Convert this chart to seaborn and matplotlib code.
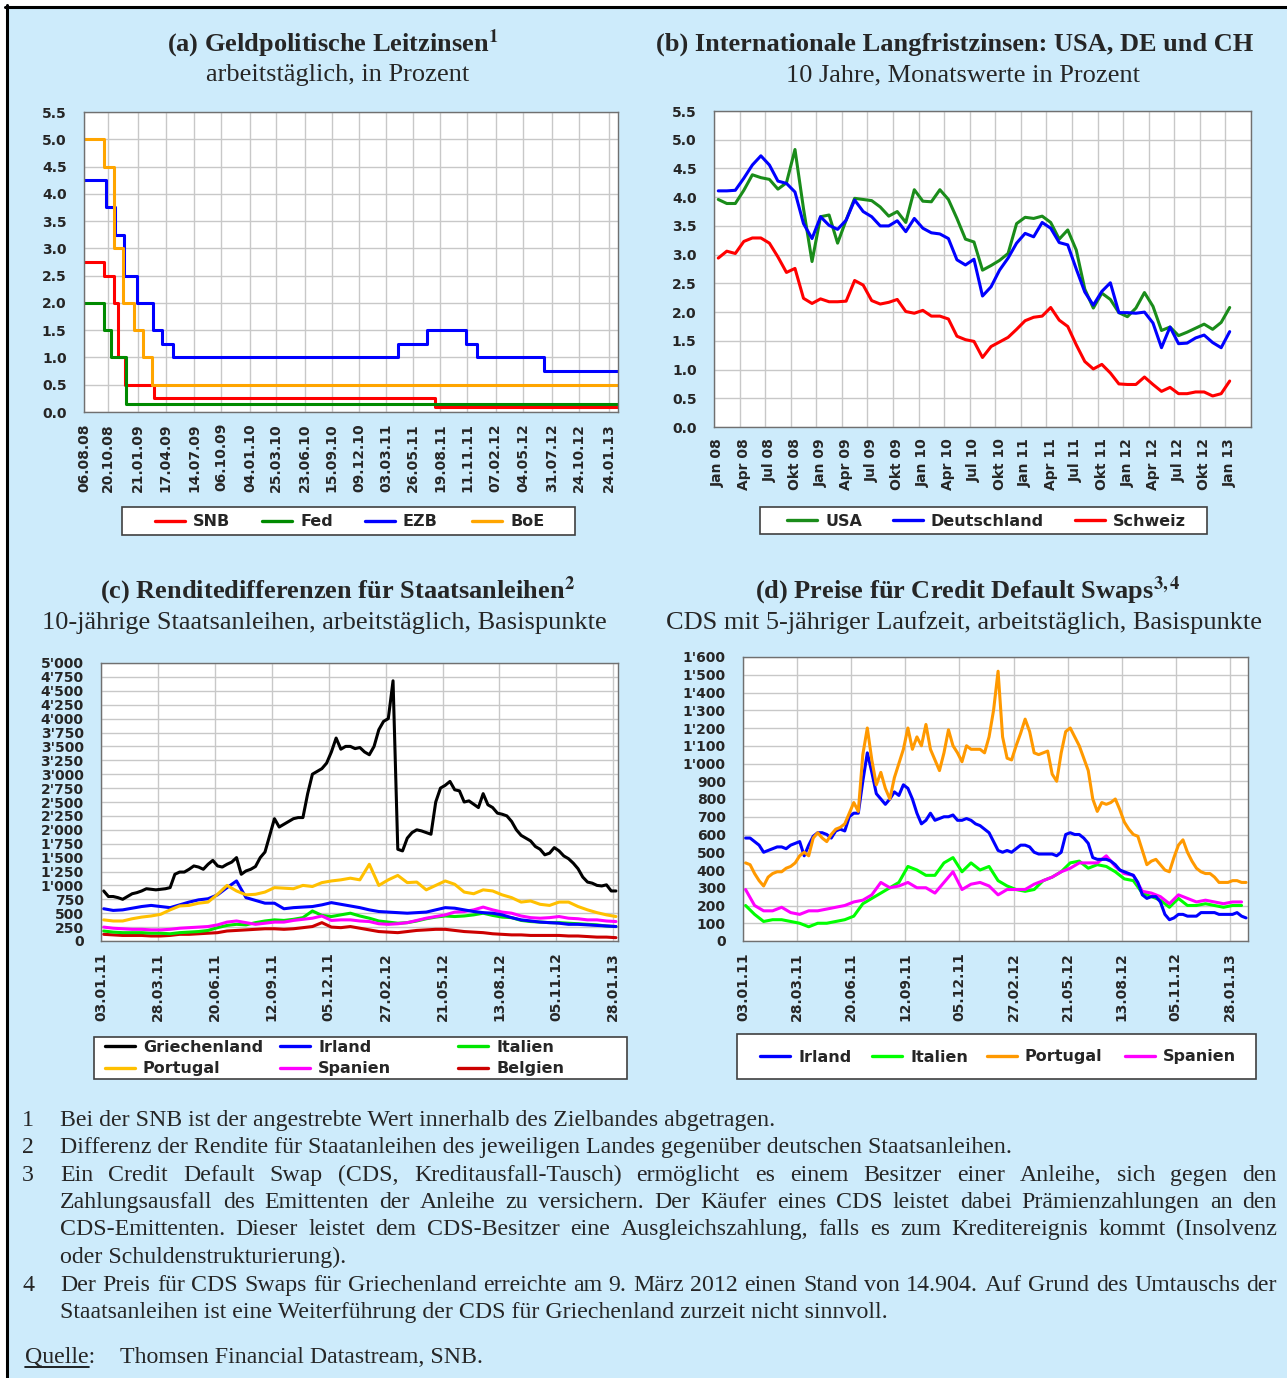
import numpy as np
import pandas as pd
import seaborn as sns
import matplotlib
matplotlib.use("Agg")
from matplotlib import pyplot as plt
from matplotlib.ticker import FuncFormatter, MultipleLocator, FixedLocator
from matplotlib.lines import Line2D
from matplotlib.patches import Rectangle

W, H = 1287, 1378

# ---------------- (a) Leitzinsen: step changes ----------------
a_end = "2013-02-22"
snb_dates = ["2008-08-06", "2008-10-08", "2008-11-06", "2008-11-20", "2008-12-11", "2009-03-12", "2011-08-03"]
snb_rates = [2.75, 2.5, 2.0, 1.0, 0.5, 0.25, 0.1]
fed_dates = ["2008-08-06", "2008-10-08", "2008-10-29", "2008-12-16"]
fed_rates = [2.0, 1.5, 1.0, 0.15]
ezb_dates = ["2008-08-06", "2008-10-12", "2008-11-09", "2008-12-07", "2009-01-18", "2009-03-08",
             "2009-04-05", "2009-05-10", "2011-04-10", "2011-07-10", "2011-11-06", "2011-12-11", "2012-07-08"]
ezb_rates = [4.25, 3.75, 3.25, 2.5, 2.0, 1.5, 1.25, 1.0, 1.25, 1.5, 1.25, 1.0, 0.75]
boe_dates = ["2008-08-06", "2008-10-08", "2008-11-06", "2008-12-04", "2009-01-08", "2009-02-05", "2009-03-05"]
boe_rates = [5.0, 4.5, 3.0, 2.0, 1.5, 1.0, 0.5]
a_ticks = ["06.08.08", "20.10.08", "21.01.09", "17.04.09", "14.07.09", "06.10.09", "04.01.10",
           "25.03.10", "23.06.10", "15.09.10", "09.12.10", "03.03.11", "26.05.11", "19.08.11",
           "11.11.11", "07.02.12", "04.05.12", "31.07.12", "24.10.12", "24.01.13"]

# ---------------- (b) Langfristzinsen, monthly Jan 08 - Jan 13 ----------------
usa = [3.96, 3.89, 3.89, 4.12, 4.39, 4.34, 4.31, 4.14, 4.25, 4.83,
       3.80, 2.88, 3.66, 3.69, 3.20, 3.60, 3.98, 3.96, 3.94, 3.83,
       3.67, 3.75, 3.56, 4.13, 3.93, 3.92, 4.13, 3.96, 3.63, 3.27,
       3.22, 2.73, 2.81, 2.90, 3.02, 3.54, 3.65, 3.63, 3.67, 3.56,
       3.27, 3.43, 3.08, 2.40, 2.07, 2.33, 2.22, 1.99, 1.92, 2.07,
       2.34, 2.10, 1.68, 1.74, 1.59, 1.65, 1.72, 1.79, 1.70, 1.82, 2.08]
deutschland = [4.11, 4.11, 4.12, 4.33, 4.56, 4.72, 4.56, 4.28, 4.24, 4.09,
               3.54, 3.28, 3.66, 3.51, 3.44, 3.60, 3.95, 3.75, 3.66, 3.50,
               3.50, 3.59, 3.40, 3.63, 3.46, 3.38, 3.36, 3.28, 2.91, 2.82,
               2.92, 2.28, 2.44, 2.73, 2.94, 3.20, 3.37, 3.31, 3.56, 3.46,
               3.21, 3.17, 2.75, 2.35, 2.12, 2.36, 2.51, 1.99, 1.99, 1.98,
               2.00, 1.81, 1.38, 1.74, 1.45, 1.46, 1.55, 1.60, 1.47, 1.38, 1.66]
schweiz = [2.94, 3.06, 3.02, 3.23, 3.29, 3.29, 3.20, 2.96, 2.69, 2.76,
           2.24, 2.15, 2.23, 2.18, 2.18, 2.19, 2.55, 2.47, 2.20, 2.14,
           2.17, 2.22, 2.01, 1.98, 2.03, 1.93, 1.93, 1.88, 1.58, 1.52,
           1.49, 1.21, 1.40, 1.48, 1.56, 1.70, 1.85, 1.91, 1.93, 2.08,
           1.86, 1.75, 1.43, 1.14, 1.01, 1.09, 0.94, 0.75, 0.74, 0.74,
           0.87, 0.74, 0.62, 0.69, 0.58, 0.58, 0.61, 0.61, 0.54, 0.58, 0.80]
b_months = ["Jan", "Apr", "Jul", "Okt"]
b_ticks = [f"{m} {y:02d}" for y in range(8, 13) for m in b_months] + ["Jan 13"]

# ---------------- (c) Renditedifferenzen (weekly / two-weekly readings) ----------------
c_start, c_end = "2011-01-03", "2013-02-04"
griechenland = [900, 800, 800, 780, 750, 800, 850, 870, 900, 940,
                930, 920, 930, 940, 960, 1200, 1240, 1240, 1290, 1350,
                1330, 1290, 1380, 1450, 1350, 1330, 1380, 1420, 1500, 1200,
                1260, 1290, 1340, 1500, 1600, 1900, 2200, 2050, 2100, 2150,
                2200, 2220, 2220, 2650, 3000, 3050, 3100, 3200, 3400, 3650,
                3450, 3500, 3500, 3460, 3480, 3400, 3350, 3500, 3800, 3950,
                4000, 4680, 1650, 1620, 1850, 1950, 2000, 1980, 1950, 1920,
                2500, 2750, 2800, 2870, 2720, 2700, 2500, 2520, 2460, 2400,
                2650, 2450, 2400, 2300, 2280, 2250, 2150, 2000, 1900, 1850,
                1800, 1700, 1650, 1550, 1580, 1680, 1620, 1530, 1480, 1400,
                1300, 1150, 1060, 1040, 1000, 990, 1010, 900, 900]
portugal_c = [380, 360, 360, 400, 430, 450, 480, 560, 630, 640,
              680, 700, 840, 1000, 900, 830, 840, 880, 960, 950,
              940, 1000, 980, 1050, 1080, 1100, 1130, 1100, 1380, 1000,
              1100, 1180, 1050, 1060, 920, 1000, 1080, 1020, 880, 850,
              920, 900, 830, 780, 700, 720, 660, 640, 700, 700,
              620, 560, 510, 470, 440]
irland_c = [580, 550, 560, 590, 620, 640, 620, 600, 650, 700,
            740, 760, 830, 960, 1080, 780, 730, 680, 680, 580,
            600, 610, 620, 650, 690, 660, 630, 600, 560, 530,
            520, 510, 500, 510, 520, 560, 600, 590, 560, 530,
            510, 500, 470, 420, 380, 360, 340, 330, 320, 300,
            300, 290, 280, 270, 260]
italien_c = [180, 160, 150, 150, 150, 140, 140, 130, 150, 160,
             170, 190, 240, 280, 300, 290, 330, 360, 380, 370,
             390, 420, 540, 460, 440, 470, 500, 450, 410, 360,
             340, 320, 330, 360, 400, 430, 450, 440, 450, 470,
             500, 460, 430, 420, 370, 350, 340, 330, 330, 320,
             310, 300, 290, 270, 260]
spanien_c = [250, 230, 220, 210, 210, 200, 200, 210, 230, 240,
             250, 260, 290, 340, 360, 330, 300, 320, 340, 340,
             370, 390, 410, 450, 370, 380, 380, 360, 350, 310,
             300, 310, 330, 370, 410, 440, 470, 520, 530, 560,
             610, 560, 520, 500, 450, 420, 410, 420, 440, 410,
             400, 380, 380, 360, 350]
belgien_c = [120, 110, 100, 100, 100, 90, 90, 100, 120, 120,
             130, 140, 150, 180, 190, 200, 210, 220, 220, 210,
             220, 240, 260, 330, 250, 240, 260, 230, 200, 170,
             160, 150, 170, 190, 200, 210, 210, 190, 170, 160,
             150, 130, 120, 110, 110, 100, 100, 100, 100, 90,
             90, 80, 70, 70, 60]
cd_ticks = ["03.01.11", "28.03.11", "20.06.11", "12.09.11", "05.12.11",
            "27.02.12", "21.05.12", "13.08.12", "05.11.12", "28.01.13"]

# ---------------- (d) CDS prices ----------------
d_end = "2013-02-25"
portugal_d = [440, 430, 380, 340, 310, 360, 380, 390, 390, 410,
              420, 440, 480, 500, 480, 580, 610, 580, 560, 600,
              630, 640, 660, 720, 780, 730, 1050, 1200, 1020, 880,
              950, 860, 800, 920, 1000, 1080, 1200, 1080, 1150, 1100,
              1220, 1080, 1020, 960, 1060, 1190, 1100, 1060, 1010, 1100,
              1080, 1080, 1080, 1060, 1150, 1300, 1520, 1150, 1030, 1020,
              1100, 1170, 1250, 1180, 1060, 1050, 1060, 1070, 940, 900,
              1060, 1180, 1200, 1150, 1100, 1030, 960, 800, 730, 780,
              770, 780, 800, 740, 670, 630, 600, 590, 510, 430,
              450, 460, 430, 400, 390, 470, 540, 570, 500, 450,
              410, 390, 380, 380, 360, 330, 330, 330, 340, 340,
              330, 330]
irland_d = [580, 580, 560, 540, 500, 510, 520, 530, 530, 520,
            540, 550, 560, 480, 540, 590, 610, 610, 600, 580,
            620, 630, 620, 700, 720, 720, 900, 1060, 950, 830,
            800, 770, 800, 840, 820, 880, 860, 800, 720, 660,
            680, 720, 680, 690, 700, 700, 710, 680, 680, 690,
            680, 660, 650, 630, 610, 560, 510, 500, 510, 500,
            520, 540, 540, 530, 500, 490, 490, 490, 490, 480,
            500, 600, 610, 600, 600, 580, 550, 470, 460, 460,
            460, 450, 430, 400, 390, 380, 370, 330, 260, 240,
            250, 250, 220, 150, 120, 130, 150, 150, 140, 140,
            140, 160, 160, 160, 160, 150, 150, 150, 150, 160,
            140, 130]
italien_d = [200, 150, 110, 120, 120, 110, 100, 80, 100, 100,
             110, 120, 140, 210, 240, 270, 300, 330, 420, 400,
             370, 370, 440, 470, 390, 440, 400, 420, 340, 310,
             290, 280, 290, 340, 360, 390, 440, 450, 410, 430,
             420, 390, 350, 340, 270, 250, 230, 190, 240, 200,
             200, 210, 200, 190, 200, 200]
spanien_d = [290, 200, 170, 170, 190, 160, 150, 170, 170, 180,
             190, 200, 220, 230, 260, 330, 300, 310, 330, 300,
             300, 270, 330, 390, 290, 320, 330, 310, 260, 290,
             290, 290, 320, 340, 360, 390, 410, 440, 440, 440,
             480, 420, 380, 370, 280, 270, 250, 210, 260, 240,
             220, 230, 220, 210, 220, 220]


def steps(name, dates, rates):
    d = list(pd.to_datetime(dates)) + [pd.Timestamp(a_end)]
    return pd.DataFrame({"Datum": d, "Wert": rates + [rates[-1]], "Serie": name})


def series(name, vals, freq):
    d = pd.date_range("2011-01-07", periods=len(vals), freq=freq)
    return pd.DataFrame({"Datum": d, "Wert": vals, "Serie": name})


df_a = pd.concat([steps("SNB", snb_dates, snb_rates), steps("Fed", fed_dates, fed_rates),
                  steps("EZB", ezb_dates, ezb_rates), steps("BoE", boe_dates, boe_rates)])
df_b = pd.concat([pd.DataFrame({"Monat": np.arange(len(v)), "Wert": v, "Serie": n})
                  for n, v in [("Schweiz", schweiz), ("USA", usa), ("Deutschland", deutschland)]])
df_c = pd.concat([series("Belgien", belgien_c, "2W-FRI"), series("Italien", italien_c, "2W-FRI"),
                  series("Spanien", spanien_c, "2W-FRI"), series("Irland", irland_c, "2W-FRI"),
                  series("Portugal", portugal_c, "2W-FRI"), series("Griechenland", griechenland, "W-FRI")])
df_d = pd.concat([series("Italien", italien_d, "2W-FRI"), series("Spanien", spanien_d, "2W-FRI"),
                  series("Irland", irland_d, "W-FRI"), series("Portugal", portugal_d, "W-FRI")])

pal_a = {"SNB": "#ff0000", "Fed": "#008a00", "EZB": "#0000ff", "BoE": "#ffa500"}
pal_b = {"USA": "#1a8c1a", "Deutschland": "#0000ff", "Schweiz": "#ff0000"}
pal_c = {"Griechenland": "#000000", "Irland": "#0000ff", "Italien": "#00e600",
         "Portugal": "#ffc000", "Spanien": "#ff00ff", "Belgien": "#cc0000"}
pal_d = {"Irland": "#0000ff", "Italien": "#00ff00", "Portugal": "#ff9900", "Spanien": "#ff00ff"}

sns.set_style("white")
plt.rcParams["font.family"] = ["DejaVu Sans"]
plt.rcParams["font.weight"] = "bold"
plt.rcParams["mathtext.fontset"] = "stix"

fig = plt.figure(figsize=(W / 100, H / 100), dpi=100)
fig.add_artist(Rectangle((6 / W, 0), 1, 1 - 6 / H, transform=fig.transFigure,
                         facecolor="#cdebfb", edgecolor="none", zorder=-10))
fig.add_artist(Line2D([5 / W, 1], [1 - 6.5 / H, 1 - 6.5 / H], color="black", lw=2.2))
fig.add_artist(Line2D([6.5 / W, 6.5 / W], [0, 1 - 5 / H], color="black", lw=2.2))


def add_ax(l, t, r, b):
    return fig.add_axes([l / W, 1 - b / H, (r - l) / W, (b - t) / H])


def style(ax):
    ax.set_facecolor("white")
    ax.set_xlabel("")
    ax.set_ylabel("")
    for s in ax.spines.values():
        s.set_color("#707070")
        s.set_linewidth(1)
    ax.tick_params(direction="out", length=4, width=1, color="#606060", labelsize=10)
    ax.tick_params(axis="y", pad=8.5)
    ax.tick_params(axis="x", pad=4)
    ax.grid(True, color="#c8c8c8", lw=1)


def legend_box(x0, x1, y0, y1, rows, pal):
    fig.add_artist(Rectangle((x0 / W, 1 - y1 / H), (x1 - x0) / W, (y1 - y0) / H,
                             transform=fig.transFigure, facecolor="white",
                             edgecolor="#404040", lw=1.2))
    for y, entries in rows:
        for name, hx in entries:
            fig.add_artist(Line2D([hx / W, (hx + 30) / W], [1 - y / H] * 2, color=pal[name], lw=2.4))
            fig.text((hx + 38) / W, 1 - (y + 5.5) / H, name, ha="left", va="baseline",
                     fontsize=11.5, fontweight="bold")


apos = FuncFormatter(lambda v, p: f"{int(v):,}".replace(",", "'"))
lw = 2.2

# (a)
ax = add_ax(84, 112, 618, 412)
sns.lineplot(data=df_a, x="Datum", y="Wert", hue="Serie", palette=pal_a, estimator=None,
             drawstyle="steps-post", linewidth=lw, legend=False, ax=ax)
style(ax)
ta = pd.to_datetime(a_ticks, format="%d.%m.%y")
ax.set_xticks(ta)
ax.set_xticklabels(a_ticks, rotation=90)
ax.set_xlim(pd.Timestamp("2008-08-06"), pd.Timestamp(a_end))
ax.set_ylim(0, 5.5)
ax.yaxis.set_major_locator(MultipleLocator(0.5))
ax.yaxis.set_major_formatter(FuncFormatter(lambda v, p: f"{v:.1f}"))
legend_box(122, 575, 507, 535, [(521, [("SNB", 155), ("Fed", 262), ("EZB", 365), ("BoE", 472)])], pal_a)

# (b)
ax = add_ax(714, 111, 1251, 427)
sns.lineplot(data=df_b, x="Monat", y="Wert", hue="Serie", palette=pal_b, estimator=None,
             linewidth=lw, legend=False, ax=ax)
style(ax)
ax.set_xlim(-0.5, 62.5)
ax.set_xticks(np.arange(0, 61, 3))
ax.set_xticklabels(b_ticks, rotation=90)
ax.xaxis.set_minor_locator(FixedLocator(np.arange(-0.5, 63, 3)))
ax.tick_params(axis="x", which="major", length=0, pad=8)
ax.tick_params(axis="x", which="minor", direction="out", length=4, width=1, color="#606060")
ax.grid(False, axis="x", which="major")
ax.grid(True, axis="x", which="minor", color="#c8c8c8", lw=1)
ax.set_ylim(0, 5.5)
ax.yaxis.set_major_locator(MultipleLocator(0.5))
ax.yaxis.set_major_formatter(FuncFormatter(lambda v, p: f"{v:.1f}"))
legend_box(760, 1207, 507, 534, [(520, [("USA", 787), ("Deutschland", 893), ("Schweiz", 1075)])], pal_b)

tc = pd.to_datetime(cd_ticks, format="%d.%m.%y")

# (c)
ax = add_ax(101, 663, 618, 941)
sns.lineplot(data=df_c, x="Datum", y="Wert", hue="Serie", palette=pal_c, estimator=None,
             linewidth=lw, legend=False, ax=ax)
style(ax)
ax.set_xticks(tc)
ax.set_xticklabels(cd_ticks, rotation=90)
ax.set_xlim(pd.Timestamp(c_start), pd.Timestamp(c_end))
ax.set_ylim(0, 5000)
ax.yaxis.set_major_locator(MultipleLocator(250))
ax.yaxis.set_major_formatter(apos)
legend_box(94, 627, 1037, 1079,
           [(1046, [("Griechenland", 105), ("Irland", 280), ("Italien", 458)]),
            (1068, [("Portugal", 105), ("Spanien", 280), ("Belgien", 458)])], pal_c)

# (d)
ax = add_ax(743, 657, 1248, 941)
sns.lineplot(data=df_d, x="Datum", y="Wert", hue="Serie", palette=pal_d, estimator=None,
             linewidth=lw, legend=False, ax=ax)
style(ax)
ax.set_xticks(tc)
ax.set_xticklabels(cd_ticks, rotation=90)
ax.set_xlim(pd.Timestamp(c_start), pd.Timestamp(d_end))
ax.set_ylim(0, 1600)
ax.yaxis.set_major_locator(MultipleLocator(100))
ax.yaxis.set_major_formatter(apos)
legend_box(737, 1256, 1034, 1079,
           [(1056, [("Irland", 760), ("Italien", 872), ("Portugal", 987), ("Spanien", 1125)])], pal_d)

# titles
serif = ["Liberation Serif", "DejaVu Serif"]
titles = [
    (333, 51, r"(a) Geldpolitische Leitzinsen$^{\mathbf{1}}$", "bold"),
    (338, 81, "arbeitstäglich, in Prozent", "normal"),
    (955, 51, "(b) Internationale Langfristzinsen: USA, DE und CH", "bold"),
    (963, 81, "10 Jahre, Monatswerte in Prozent", "normal"),
    (338, 598, r"(c) Renditedifferenzen für Staatsanleihen$^{\mathbf{2}}$", "bold"),
    (324, 629, "10-jährige Staatsanleihen, arbeitstäglich, Basispunkte", "normal"),
    (968, 598, r"(d) Preise für Credit Default Swaps$^{\mathbf{3,4}}$", "bold"),
    (964, 629, "CDS mit 5-jähriger Laufzeit, arbeitstäglich, Basispunkte", "normal"),
]
for x, y, s, wgt in titles:
    fig.text(x / W, 1 - y / H, s, ha="center", va="baseline", family=serif,
             fontsize=19, fontweight=wgt)

# footnotes
fn = dict(family=serif, fontsize=17.2, fontweight="normal", va="baseline")
notes = [
    ("1", "Bei der SNB ist der angestrebte Wert innerhalb des Zielbandes abgetragen.", False),
    ("2", "Differenz der Rendite für Staatanleihen des jeweiligen Landes gegenüber deutschen Staatsanleihen.", False),
    ("3", "Ein Credit Default Swap (CDS, Kreditausfall-Tausch) ermöglicht es einem Besitzer einer Anleihe, sich gegen den", True),
    ("", "Zahlungsausfall des Emittenten der Anleihe zu versichern. Der Käufer eines CDS leistet dabei Prämienzahlungen an den", True),
    ("", "CDS-Emittenten. Dieser leistet dem CDS-Besitzer eine Ausgleichszahlung, falls es zum Kreditereignis kommt (Insolvenz", True),
    ("", "oder Schuldenstrukturierung).", False),
    ("4", "Der Preis für CDS Swaps für Griechenland erreichte am 9. März 2012 einen Stand von 14.904. Auf Grund des Umtauschs der", True),
    ("", "Staatsanleihen ist eine Weiterführung der CDS für Griechenland zurzeit nicht sinnvoll.", False),
]
baselines = [1126, 1153, 1181, 1208, 1235, 1263, 1291, 1318]
renderer = fig.canvas.get_renderer()
x0, x1 = 60, 1277
for (num, line, just), yb in zip(notes, baselines):
    y = 1 - yb / H
    if num:
        fig.text(22 / W, y, num, **fn)
    if not just:
        fig.text(x0 / W, y, line, **fn)
        continue
    words = line.split()
    ts = [fig.text(0, y, w, **fn) for w in words]
    ws = [t.get_window_extent(renderer).width for t in ts]
    gap = (x1 - x0 - sum(ws)) / (len(words) - 1)
    x = x0
    for t, w in zip(ts, ws):
        t.set_x(x / W)
        x += w + gap

fig.text(25 / W, 1 - 1363 / H, "Quelle:", **fn)
tmp = fig.text(0, 0, "Quelle", **fn)
qw = tmp.get_window_extent(renderer).width
tmp.remove()
fig.add_artist(Line2D([25 / W, (25 + qw) / W], [1 - 1367 / H, 1 - 1367 / H], color="black", lw=1.2))
fig.text(120 / W, 1 - 1363 / H, "Thomsen Financial Datastream, SNB.", **fn)

fig.savefig("out.png", dpi=100)
